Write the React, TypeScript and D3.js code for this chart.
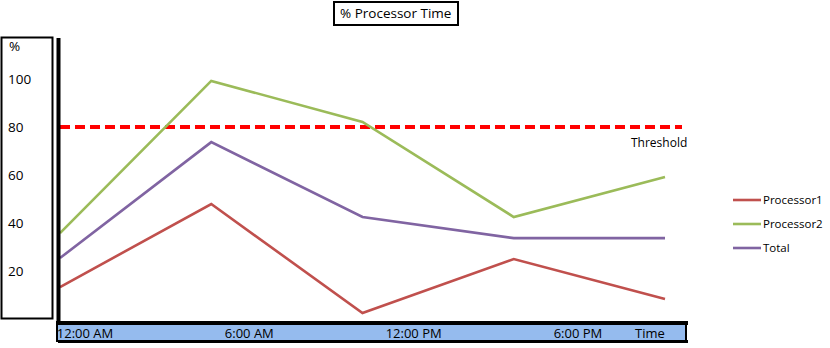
import React from "react";
import * as d3 from "d3";

const times = ["t0", "t1", "t2", "t3", "t4"];
const processor1 = [13.3, 47.9, 2.5, 25, 8.3];
const processor2 = [35.8, 99.2, 82.1, 42.5, 59.2];
const total = [25.4, 73.7, 42.5, 33.7, 33.7];
const threshold = 80;
const yTicks = [20, 40, 60, 80, 100];
const xTickLabels = ["12:00 AM", "6:00 AM", "12:00 PM", "6:00 PM"];
const seriesNames = ["Processor1", "Processor2", "Total"];
const seriesColors = ["#c0504d", "#9bbb59", "#8064a2"];

const W = 830;
const H = 348;

export default function App() {
  const x = d3.scalePoint<string>().domain(times).range([60, 665]);
  const y = d3.scaleLinear().domain([0, 100]).range([319, 79]);
  const xl = d3.scalePoint<string>().domain(xTickLabels).range([85, 578]);
  const line = d3
    .line<number>()
    .x((_, i) => x(times[i]) as number)
    .y((d) => y(d));
  const all = [processor1, processor2, total];
  const font = "'Open Sans', 'DejaVu Sans', sans-serif";
  const legendY = d3.scalePoint<string>().domain(seriesNames).range([200, 248]);

  return (
    <svg
      width={W}
      height={H}
      style={{ position: "absolute", left: 0, top: 0, background: "#fff" }}
      fontFamily={font}
    >
      {/* title */}
      <rect x={334} y={2} width={124} height={23} fill="#fff" stroke="#000" strokeWidth={2} />
      <text x={340} y={18} fontSize={13.5} fill="#000">% Processor Time</text>

      {/* y axis panel */}
      <rect x={1.5} y={37.5} width={51} height={281} fill="#fff" stroke="#000" strokeWidth={2} />
      <text x={9} y={51} fontSize={13.5} fill="#000">%</text>
      {yTicks.map((t) => (
        <text key={t} x={8} y={y(t)} dy="0.35em" fontSize={13.5} fill="#000">
          {t}
        </text>
      ))}

      {/* x axis band */}
      <rect x={57} y={323} width={629} height={18} fill="#95bbee" stroke="#000" strokeWidth={2} />
      <line x1={56} x2={688} y1={323} y2={323} stroke="#000" strokeWidth={4} />
      <line x1={58} x2={688} y1={341.5} y2={341.5} stroke="#000" strokeWidth={3} />
      {xTickLabels.map((l) => (
        <text key={l} x={xl(l)} y={333} dy="0.35em" fontSize={13} textAnchor="middle" fill="#000">
          {l}
        </text>
      ))}
      <text x={635} y={333} dy="0.35em" fontSize={13} fill="#000">Time</text>

      {/* threshold */}
      <line
        x1={60}
        x2={682}
        y1={y(threshold)}
        y2={y(threshold)}
        stroke="#ff0000"
        strokeWidth={4}
        strokeDasharray="10 5"
      />
      <text x={631} y={143} dy="0.35em" fontSize={12} fill="#000">Threshold</text>

      {/* series */}
      {all.map((s, i) => (
        <path key={i} d={line(s) || ""} fill="none" stroke={seriesColors[i]} strokeWidth={2.6} />
      ))}

      {/* y axis line */}
      <line x1={58.5} x2={58.5} y1={38} y2={323} stroke="#000" strokeWidth={4} />

      {/* legend */}
      {seriesNames.map((n, i) => (
        <g key={n}>
          <line
            x1={733}
            x2={761}
            y1={legendY(n)}
            y2={legendY(n)}
            stroke={seriesColors[i]}
            strokeWidth={2.6}
          />
          <text x={763} y={legendY(n)} dy="0.35em" fontSize={11.5} fill="#000">
            {n}
          </text>
        </g>
      ))}
    </svg>
  );
}
